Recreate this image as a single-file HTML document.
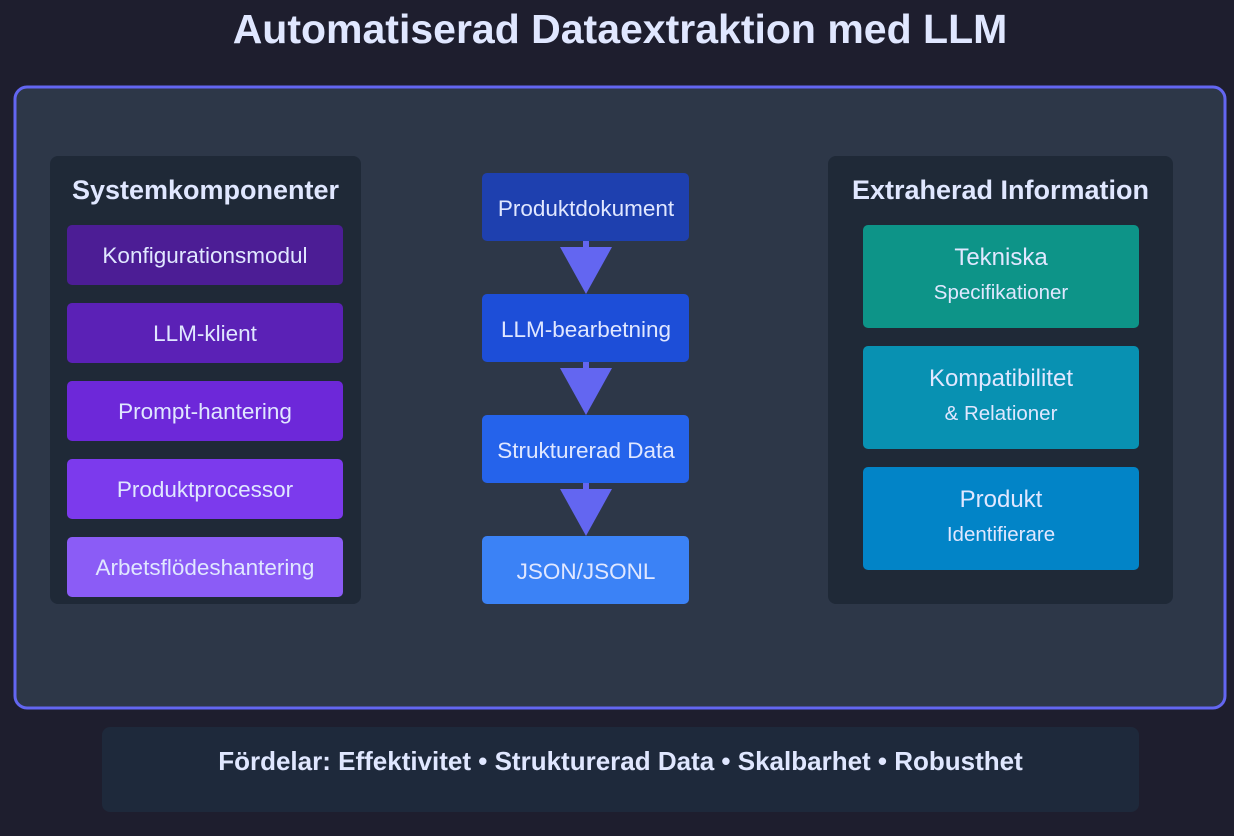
<!DOCTYPE html>
<html><head><meta charset="utf-8"><style>
html,body{margin:0;padding:0;background:#1e1e2e;}
svg{display:block}
text{font-family:"Liberation Sans",Arial,sans-serif;}
</style></head><body>
<svg width="1234" height="836" viewBox="0 0 1234 836" xmlns="http://www.w3.org/2000/svg">
<rect width="1234" height="836" fill="#1e1e2e"/>
<text x="620" y="43" text-anchor="middle" font-size="41" font-weight="bold" fill="#e0e7ff">Automatiserad Dataextraktion med LLM</text>
<rect x="15" y="87" width="1210" height="621" rx="12" ry="12" fill="#2d3748" stroke="#6366f1" stroke-width="3"/>
<rect x="50" y="156" width="311" height="448" rx="8" ry="8" fill="#1f2937"/>
<text x="205.5" y="199" text-anchor="middle" font-size="27" font-weight="bold" fill="#e0e7ff">Systemkomponenter</text>
<g font-size="22.5" fill="#e0e7ff" text-anchor="middle">
<rect x="67" y="225" width="276" height="60" rx="5" ry="5" fill="#4c1d95"/><text x="205" y="263">Konfigurationsmodul</text>
<rect x="67" y="303" width="276" height="60" rx="5" ry="5" fill="#5b21b6"/><text x="205" y="341">LLM-klient</text>
<rect x="67" y="381" width="276" height="60" rx="5" ry="5" fill="#6d28d9"/><text x="205" y="419">Prompt-hantering</text>
<rect x="67" y="459" width="276" height="60" rx="5" ry="5" fill="#7c3aed"/><text x="205" y="497">Produktprocessor</text>
<rect x="67" y="537" width="276" height="60" rx="5" ry="5" fill="#8b5cf6"/><text x="205" y="575">Arbetsflödeshantering</text>
</g>
<g fill="#6366f1">
<rect x="583" y="240" width="6" height="10"/><polygon points="560,247 612,247 586,294"/>
<rect x="583" y="361" width="6" height="10"/><polygon points="560,368 612,368 586,415"/>
<rect x="583" y="482" width="6" height="10"/><polygon points="560,489 612,489 586,536"/>
</g>
<g font-size="22.5" fill="#e0e7ff" text-anchor="middle">
<rect x="482" y="173" width="207" height="68" rx="5" ry="5" fill="#1e40af"/><text x="586" y="216">Produktdokument</text>
<rect x="482" y="294" width="207" height="68" rx="5" ry="5" fill="#1d4ed8"/><text x="586" y="337">LLM-bearbetning</text>
<rect x="482" y="415" width="207" height="68" rx="5" ry="5" fill="#2563eb"/><text x="586" y="458">Strukturerad Data</text>
<rect x="482" y="536" width="207" height="68" rx="5" ry="5" fill="#3b82f6"/><text x="586" y="579">JSON/JSONL</text>
</g>
<rect x="828" y="156" width="345" height="448" rx="8" ry="8" fill="#1f2937"/>
<text x="1000.5" y="199" text-anchor="middle" font-size="27" font-weight="bold" fill="#e0e7ff">Extraherad Information</text>
<g fill="#e0e7ff" text-anchor="middle">
<rect x="863" y="225" width="276" height="103" rx="5" ry="5" fill="#0d9488"/>
<text x="1001" y="265" font-size="24">Tekniska</text><text x="1001" y="299" font-size="20.5">Specifikationer</text>
<rect x="863" y="346" width="276" height="103" rx="5" ry="5" fill="#0891b2"/>
<text x="1001" y="386" font-size="24">Kompatibilitet</text><text x="1001" y="420" font-size="20.5">&amp; Relationer</text>
<rect x="863" y="467" width="276" height="103" rx="5" ry="5" fill="#0284c7"/>
<text x="1001" y="507" font-size="24">Produkt</text><text x="1001" y="541" font-size="20.5">Identifierare</text>
</g>
<rect x="102" y="727" width="1037" height="85" rx="8" ry="8" fill="#1e293b"/>
<text x="620.5" y="770" text-anchor="middle" font-size="26" font-weight="bold" fill="#e0e7ff">Fördelar: Effektivitet • Strukturerad Data • Skalbarhet • Robusthet</text>
</svg>
</body></html>
